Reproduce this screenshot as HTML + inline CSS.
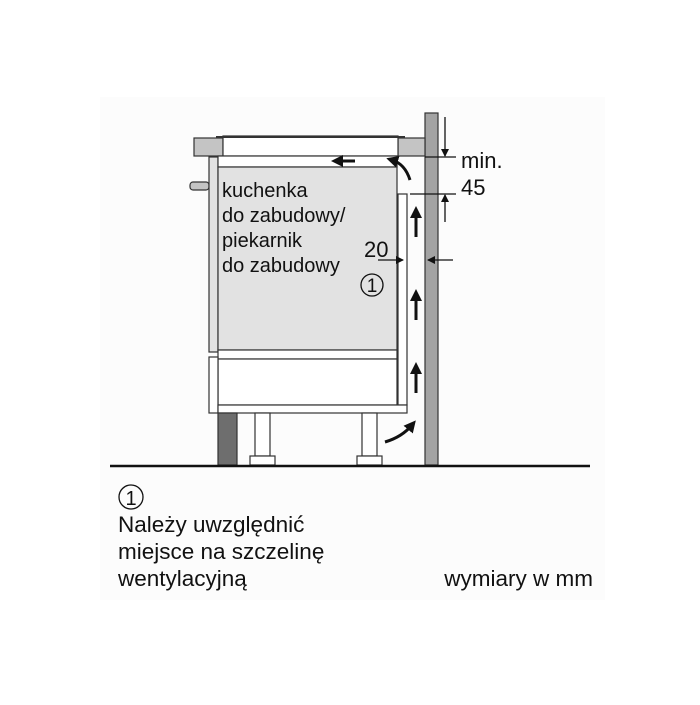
<!DOCTYPE html>
<html><head><style>
body{margin:0;background:#fff}
svg text{font-family:"Liberation Sans",sans-serif;fill:#111}
</style></head><body>
<svg width="700" height="700" viewBox="0 0 700 700" xmlns="http://www.w3.org/2000/svg">
<defs>
<marker id="ah" markerWidth="4" markerHeight="4" refX="2" refY="2" orient="auto" markerUnits="strokeWidth"><path d="M0,0 L4,2 L0,4 z" fill="#111"/></marker>
<marker id="ta" markerWidth="8" markerHeight="8" refX="7" refY="4" orient="auto" markerUnits="userSpaceOnUse"><path d="M0,0 L8,4 L0,8 z" fill="#111"/></marker>
</defs>
<rect x="100" y="97" width="505" height="503" fill="#fcfcfc"/>
<g stroke="#333" stroke-width="1.2">
<rect x="425" y="113" width="13" height="352" fill="#a3a3a3"/>
<rect x="194" y="138" width="29" height="18" fill="#c4c4c4"/>
<rect x="398" y="138" width="27" height="18" fill="#c4c4c4"/>
<rect x="223" y="136" width="175" height="20" fill="#fff"/>
<line x1="216" y1="137" x2="405" y2="137" stroke-width="2"/>
<rect x="190" y="182" width="19" height="8" rx="3" fill="#c4c4c4"/>
<rect x="209" y="157" width="9" height="195" fill="#e2e2e2"/>
<rect x="218" y="156" width="179" height="11" fill="#fff"/>
<rect x="218" y="167" width="179" height="183" fill="#e2e2e2"/>
<rect x="218" y="350" width="179" height="9" fill="#fff"/>
<rect x="218" y="359" width="179" height="46" fill="#fff"/>
<rect x="398" y="194" width="9" height="211" fill="#fff"/>
<rect x="209" y="357" width="9" height="56" fill="#fff"/>
<rect x="218" y="405" width="189" height="8" fill="#fff"/>
<rect x="218" y="413" width="19" height="52" fill="#6e6e6e"/>
<rect x="255" y="413" width="15" height="43" fill="#fff"/>
<rect x="250" y="456" width="25" height="9" fill="#fff"/>
<rect x="362" y="413" width="15" height="43" fill="#fff"/>
<rect x="357" y="456" width="25" height="9" fill="#fff"/>
</g>
<line x1="110" y1="466" x2="590" y2="466" stroke="#111" stroke-width="2.5"/>
<g stroke="#111" stroke-width="1.3">
<line x1="425" y1="157" x2="456" y2="157"/>
<line x1="410" y1="194" x2="456" y2="194"/>
<line x1="445" y1="117" x2="445" y2="156" marker-end="url(#ta)"/>
<line x1="445" y1="222" x2="445" y2="195" marker-end="url(#ta)"/>
<line x1="378" y1="260" x2="403" y2="260" marker-end="url(#ta)"/>
<line x1="453" y1="260" x2="428" y2="260" marker-end="url(#ta)"/>
</g>
<g stroke="#111" stroke-width="3" fill="none">
<line x1="416" y1="237" x2="416" y2="212" marker-end="url(#ah)"/>
<line x1="416" y1="320" x2="416" y2="295" marker-end="url(#ah)"/>
<line x1="416" y1="393" x2="416" y2="368" marker-end="url(#ah)"/>
<line x1="355" y1="161" x2="337" y2="161" marker-end="url(#ah)"/>
<path d="M410,180 Q405,164 392,160" marker-end="url(#ah)"/>
<path d="M385,442 Q402,437 412,425" marker-end="url(#ah)"/>
</g>
<text x="461" y="168" font-size="22">min.</text>
<text x="461" y="195" font-size="22">45</text>
<text x="364" y="257" font-size="22">20</text>
<circle cx="372" cy="285" r="11" fill="none" stroke="#111" stroke-width="1.3"/>
<text x="372" y="292" font-size="19" text-anchor="middle">1</text>
<g font-size="20">
<text x="222" y="197">kuchenka</text>
<text x="222" y="222">do zabudowy/</text>
<text x="222" y="247">piekarnik</text>
<text x="222" y="272">do zabudowy</text>
</g>
<circle cx="131" cy="497" r="12" fill="none" stroke="#111" stroke-width="1.3"/>
<text x="131" y="505" font-size="20" text-anchor="middle">1</text>
<g font-size="22.5">
<text x="118" y="532">Należy uwzględnić</text>
<text x="118" y="559">miejsce na szczelinę</text>
<text x="118" y="586">wentylacyjną</text>
<text x="593" y="586" text-anchor="end">wymiary w mm</text>
</g>
</svg>
</body></html>
